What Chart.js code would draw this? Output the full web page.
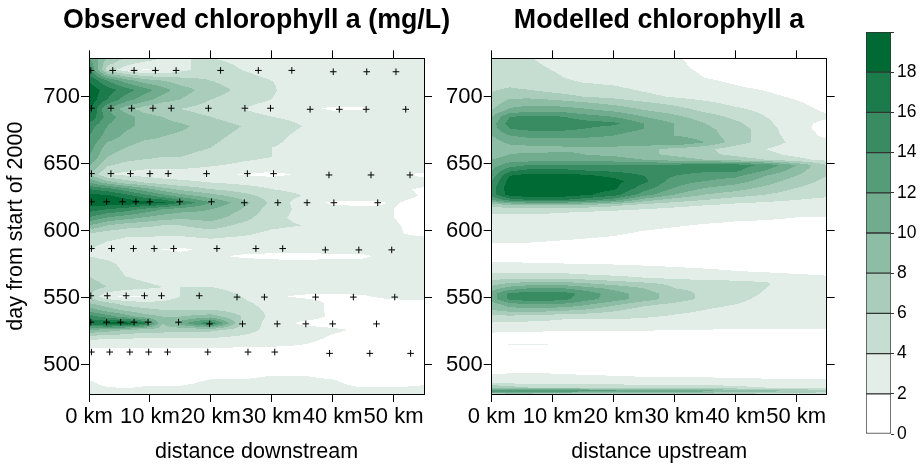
<!DOCTYPE html>
<html>
<head>
<meta charset="utf-8">
<script src="https://cdn.jsdelivr.net/npm/chart.js@4.4.1/dist/chart.umd.min.js"></script>
<style>
  html, body { margin: 0; padding: 0; background: #fff; }
  body { width: 921px; height: 465px; position: relative; overflow: hidden; }
  canvas { position: absolute; top: 0; }
</style>
</head>
<body>
<canvas id="obs" width="513" height="465" style="left:0px"></canvas>
<canvas id="mod" width="438" height="465" style="left:440px"></canvas>
<canvas id="key" width="71" height="465" style="left:850px"></canvas>
<script>
// distance grid (km) shared by both panels
const distKm = [0, 3, 6, 9, 12, 15, 20, 25, 30, 35, 40, 45, 50, 55];
// axis ticks
const kmTicks = [0, 10, 20, 30, 40, 50];
const dayTicks = [500, 550, 600, 650, 700];

// observed chlorophyll a (mg/L), one row per day
const obsDays = [479, 486, 493, 500, 508, 514, 520, 526, 531, 536, 541, 546, 551, 558, 566, 575,
  581, 586, 592, 598, 604, 610, 616, 621, 626, 631, 636, 642, 648, 655, 662, 670, 678, 685, 691,
  698, 705, 712, 720, 729];
const obsChl = [
  [3, 3, 3, 3, 3, 3, 3, 3, 3, 3, 3, 3, 3, 3],
  [2.4, 1.5, 1.0, 1.6, 1.7, 1.7, 2.4, 2.4, 2.6, 2.6, 2.4, 1.3, 1.3, 1.8],
  [1.2, 1.2, 1.2, 1.2, 1.2, 1.2, 1.5, 1.5, 1.9, 1.9, 1.5, 1.2, 1.2, 1.2],
  [1, 1, 1, 1, 1, 1, 1, 1, 1, 1, 1, 1, 1, 1],
  [1, 1, 1, 1, 1, 1, 1, 1, 1, 1, 1, 1, 1, 1],
  [2.3, 2.3, 2.3, 2.3, 2.3, 2.3, 2.3, 2.2, 2.1, 1.9, 1.5, 1.2, 1.2, 1.2],
  [4.5, 4.3, 4.2, 4, 4, 4, 4, 3.5, 3, 2.5, 1.8, 1.5, 1.5, 1.5],
  [10, 9, 8, 7, 7, 6.5, 6.5, 5, 3.3, 2.6, 2.2, 1.8, 1.5, 1.5],
  [17, 19, 19, 17, 8, 11, 16, 6, 3, 1.7, 1.5, 1.5, 1.5, 1.5],
  [15, 13, 11, 9, 8, 8, 9, 6, 3.5, 2.6, 1.8, 1.5, 1.5, 1.5],
  [11, 9, 7.5, 6.5, 6, 6, 6, 5, 3.5, 2.5, 1.8, 1.6, 1.5, 1.5],
  [8, 6.5, 5, 4.5, 4.5, 5, 5, 4.5, 3.2, 2.5, 1.8, 1.6, 1.6, 1.6],
  [6, 2.3, 1.7, 1.8, 2.8, 4, 5, 4, 2.2, 1.8, 1.8, 1.9, 2.3, 2.5],
  [7, 6, 5, 4.5, 4, 4, 4, 3.5, 3, 2.8, 2.6, 2.5, 2.5, 2.5],
  [6, 5, 4, 3.5, 3.2, 3, 3, 3, 2.8, 2.8, 2.7, 2.8, 3, 3],
  [5, 4.5, 3.5, 3.2, 3, 3, 3, 2.8, 2.6, 2.5, 2.5, 2.5, 2.8, 3],
  [4, 3.5, 3, 3, 2.8, 2.6, 2.3, 1.8, 1.6, 1.6, 1.7, 1.8, 2.5, 3],
  [4, 3.5, 3, 2.8, 2, 1.7, 2.5, 2.6, 2.5, 2.5, 2.5, 2.5, 2.8, 3],
  [4.5, 4, 3.5, 3.5, 3, 3, 3.5, 3, 3, 3, 3, 2.8, 2.3, 2.3],
  [6, 5, 4.5, 4.5, 4.5, 4.5, 5, 4.5, 3.5, 3, 3, 2.5, 2.1, 1.8],
  [10, 8, 7, 6.5, 6, 6, 7, 5.5, 4.5, 4, 3, 2.5, 2.1, 1.7],
  [14, 12, 11, 10, 9, 8.5, 9, 7, 4.5, 3.5, 3, 2.8, 2, 1.6],
  [17, 16, 15, 13.5, 12, 11, 10, 8, 5, 3.5, 2.5, 2.3, 2, 1.6],
  [19.5, 19.5, 19.5, 19, 18.5, 16, 12, 9, 5.5, 3, 1.7, 1.7, 2.1, 1.6],
  [19, 18.5, 17, 15, 13, 11, 9, 7, 5, 4, 3, 2.8, 2.4, 1.9],
  [16, 15, 13, 11, 9, 7.5, 6, 5, 4, 3.5, 3, 3, 2.3, 1.8],
  [12, 9, 7, 6, 5, 4.5, 4, 3.5, 3.2, 3, 3, 3, 2.8, 2.5],
  [8, 4, 3.5, 3.2, 3, 3, 2.8, 1.9, 1.5, 2.3, 3, 3, 2.3, 1.7],
  [10, 6, 5, 4.5, 4.5, 4.5, 4, 3.5, 3.2, 3, 3, 3, 3, 3],
  [12, 8, 7, 6.5, 6, 6, 5.5, 4.5, 4, 3.5, 3, 3, 3, 3],
  [13, 9, 8, 7, 7, 6.5, 6, 5, 4, 3.5, 3, 3, 3, 3],
  [14, 11, 9.5, 8.5, 8, 7.5, 6.5, 5.5, 4.5, 3.5, 3, 3, 3, 3],
  [15, 12, 10.5, 9.5, 9, 8.5, 7, 6, 5, 4, 3, 3, 3, 3],
  [18, 13, 11, 9, 8, 7, 6, 5, 4, 3.5, 3, 3, 3, 3],
  [19, 12, 9, 7, 6, 6, 5, 4, 3, 2.5, 1.7, 1.8, 3, 3],
  [19.5, 16, 13, 11, 9, 8, 6, 5, 4, 3, 3, 3, 3, 3],
  [19.5, 17, 15, 13, 11, 9, 7, 5.5, 4.2, 3, 3, 3, 3, 3],
  [18, 14, 11, 9, 8, 7, 6, 5, 4, 3.5, 3, 3, 3, 3],
  [15, 5, 3, 1.8, 2.2, 3.5, 5, 4, 3, 3, 3, 3, 3, 3],
  [12, 8, 6, 5, 4, 4, 4, 3.5, 3, 3, 3, 3, 3, 3]
];

// sampling stations (crosses), one row per survey
const stationKm = [
  [0.3, 3.9, 7.4, 10.9, 14.3, 21.6, 27.8, 33.3, 40.1, 45.6, 50.4],
  [0.4, 3.6, 7.0, 10.5, 13.5, 19.6, 25.6, 29.8, 36.3, 41.1, 45.5, 52.0],
  [0.4, 3.6, 6.8, 10.0, 13.0, 19.3, 26.0, 30.3, 39.4, 46.3, 52.7],
  [0.4, 2.9, 5.5, 7.7, 10.0, 14.9, 20.1, 25.5, 31.0, 35.8, 40.2, 47.4],
  [0.4, 3.7, 7.3, 10.7, 13.9, 21.0, 27.4, 31.8, 38.8, 44.3, 49.7],
  [0.3, 3.0, 6.1, 9.1, 11.9, 18.1, 24.3, 28.8, 37.2, 43.4, 50.2],
  [0.3, 2.9, 5.2, 7.4, 9.7, 14.7, 19.8, 25.2, 30.9, 35.6, 40.0, 47.2],
  [0.4, 3.4, 6.7, 9.8, 12.9, 19.5, 26.1, 30.5, 39.5, 46.1, 52.8]
];
const stationDay = [
  [719.6, 719.6, 719.6, 719.6, 719.6, 719.6, 719.6, 719.6, 718.6, 718.6, 718.6],
  [691.4, 691.4, 691.4, 691.4, 691.4, 691.4, 691.4, 691.4, 690.6, 690.6, 690.6, 690.6],
  [642.6, 642.6, 642.6, 642.6, 642.6, 642.6, 642.6, 642.6, 641.6, 641.6, 641.6],
  [621.6, 621.6, 621.6, 621.6, 621.6, 621.6, 621.6, 620.9, 620.9, 620.9, 620.9, 620.9],
  [586.7, 586.7, 586.7, 586.7, 586.7, 586.7, 586.7, 586.7, 585.7, 585.7, 585.7],
  [551.5, 551.5, 551.5, 551.5, 551.5, 551.5, 550.5, 550.5, 550.5, 550.5, 550.5],
  [531.8, 531.8, 531.8, 531.8, 531.8, 531.8, 530.5, 530.5, 530.5, 530.5, 530.5, 530.5],
  [509.5, 509.5, 509.5, 509.5, 509.5, 509.5, 509.5, 509.5, 508.5, 508.5, 508.5]
];

// modelled chlorophyll a, one row per day
const modDays = [478, 480.5, 483, 487, 491, 500, 512, 515, 518, 524, 530, 536, 541, 545, 549, 553,
  557, 561, 565, 570, 576, 584, 592, 598, 604, 610, 615, 619, 623, 627, 632, 637, 641, 645, 649,
  653, 657, 661, 666, 671, 676, 680, 685, 690, 695, 700, 707, 714, 722, 729];
const modChl = [
  [6, 6, 6, 6, 6, 6, 6, 6, 5, 5, 5, 5, 4.5, 4.5],
  [14, 15, 15, 14, 14, 13, 13, 12, 12, 11, 10, 9, 8, 7],
  [8, 7, 6, 6, 6, 6, 5.5, 5, 5, 5, 4.5, 4, 4, 3.5],
  [3.5, 3.2, 3, 3, 3, 3, 3, 3, 3, 3, 2.8, 2.6, 2.5, 2.5],
  [2.3, 2.4, 2.4, 2.4, 2.3, 2.2, 2.1, 2, 2, 1.9, 1.8, 1.7, 1.6, 1.6],
  [1, 1, 1, 1, 1, 1, 1, 1, 1, 1, 1, 1, 1, 1],
  [1.2, 1.2, 1.2, 1.2, 1.2, 1.2, 1.2, 1.2, 1.2, 1.2, 1.2, 1.2, 1.2, 1.2],
  [1.5, 2.1, 2.2, 2.1, 1.5, 1.2, 1.2, 1.2, 1.2, 1.2, 1.2, 1.2, 1.2, 1.2],
  [1.2, 1.2, 1.2, 1.2, 1.2, 1.2, 1.2, 1.2, 1.2, 1.2, 1.2, 1.2, 1.2, 1.2],
  [2.0, 1.9, 1.9, 1.8, 1.8, 1.8, 1.7, 1.7, 1.6, 1.6, 1.5, 1.5, 1.5, 1.5],
  [3.5, 3.3, 3.2, 3.1, 3, 3, 3, 3, 2.8, 2.7, 2.6, 2.5, 2.5, 2.5],
  [5.5, 5.5, 5.3, 5, 4.5, 4.5, 4.5, 4.2, 3.8, 3.5, 3.2, 3, 3, 3],
  [8, 9, 9, 9, 8.5, 8, 6.5, 5, 4.5, 4, 3.5, 3, 3, 3],
  [9, 11, 12, 12, 11.5, 10.5, 8.5, 6.5, 5.5, 4.5, 4, 3.2, 3, 3],
  [11, 14.5, 15, 15, 14.5, 13, 11, 9, 7, 5.5, 4.5, 3.5, 3, 3],
  [11, 14.5, 15, 15, 14.8, 13.5, 11, 9, 7, 5.5, 4.8, 3.8, 3, 3],
  [9, 11, 12, 12, 12, 11, 9.5, 8, 6, 5.5, 5, 4, 3, 3],
  [7, 8, 8.5, 8.5, 8.5, 8, 7, 6.2, 5.5, 5, 4.8, 4.2, 3, 3],
  [5, 5.5, 5.5, 5.5, 5.5, 5, 4.5, 4, 3.5, 3.2, 3, 2.8, 2.5, 2.2],
  [3.5, 3.5, 3.5, 3.3, 3.2, 3, 2.8, 2.6, 2.4, 2.2, 2, 1.8, 1.6, 1.5],
  [2.1, 2.1, 2, 2, 1.9, 1.9, 1.8, 1.7, 1.6, 1.5, 1.5, 1.5, 1.5, 1.5],
  [1.2, 1.2, 1.2, 1.2, 1.2, 1.2, 1.2, 1.2, 1.2, 1.2, 1.2, 1.2, 1.2, 1.2],
  [2.1, 2.1, 2.1, 2.0, 1.9, 1.8, 1.6, 1.4, 1.3, 1.3, 1.3, 1.3, 1.3, 1.3],
  [2.8, 2.8, 2.7, 2.6, 2.5, 2.4, 2.2, 1.8, 1.6, 1.6, 1.6, 1.6, 1.6, 1.6],
  [3.2, 3.2, 3.1, 3, 3, 2.9, 2.7, 2.4, 2.1, 1.9, 1.8, 1.8, 1.8, 1.8],
  [3.5, 3.5, 3.5, 3.4, 3.3, 3.2, 3, 2.8, 2.6, 2.4, 2.2, 2.1, 2, 2],
  [4.5, 4.5, 4.5, 4.5, 4.3, 4.2, 4, 3.6, 3.3, 3, 2.8, 2.7, 2.6, 2.6],
  [6.5, 7.5, 8, 8, 8, 7.5, 6.5, 5, 4.5, 4, 3.5, 3.2, 3, 3],
  [12, 15, 16, 16, 16, 15, 13, 9, 7, 6, 5, 4.5, 4, 3.5],
  [15, 19, 19.5, 19.5, 19.2, 18.5, 17, 13, 10, 8, 7, 6, 5, 4.5],
  [15, 19.5, 19.5, 19.5, 19.5, 19, 18.5, 15, 12, 10, 9, 7.5, 6, 5],
  [14, 19, 19.5, 19.5, 19.5, 19.2, 18.8, 16.5, 13, 12, 11, 9, 7, 5.5],
  [13, 18, 19, 19, 19, 18.5, 17.5, 16, 14, 13, 12.5, 10, 8, 6],
  [12, 15.5, 16.5, 16.5, 16.5, 16, 15.5, 15, 15, 14.5, 14.5, 12, 9, 6],
  [11, 13, 14, 14, 14, 14, 14, 14, 14.5, 15, 15, 13.5, 10, 6],
  [10, 11, 11, 11, 11, 11, 11, 10, 9, 8, 7, 6, 4.5, 3.5],
  [9, 10, 10.5, 10.5, 10.5, 10, 9.5, 8.5, 7.5, 6.5, 5.5, 4.5, 3.5, 3],
  [8.5, 9, 9, 9, 9.5, 9.5, 9.5, 8.5, 7.5, 6.5, 5, 4, 3, 2.5],
  [9, 10.5, 11, 11, 11, 11, 11, 11.5, 12, 10, 7, 5, 3.5, 2.5],
  [10, 12, 12.5, 12.5, 12.5, 12.5, 12, 11, 10, 9, 7, 5, 3, 1.6],
  [11, 14, 14.5, 14.5, 14.5, 14, 13, 12, 10, 8.5, 7, 5, 2.5, 1.5],
  [11, 15, 15.5, 15.5, 15.5, 15, 14.5, 12, 10, 8, 6.5, 4.5, 2.5, 1.6],
  [10, 14, 14.5, 14.5, 14, 13, 12, 10, 8.5, 7, 5.5, 4, 2.8, 2.2],
  [8, 10.5, 11, 11, 11, 10.5, 9.5, 8, 7, 5.5, 4.5, 3.5, 2.5, 1.8],
  [7, 9, 9.5, 9.5, 9, 8.5, 7.5, 6.5, 5.5, 4.5, 3.5, 3, 2.2, 1.5],
  [6.5, 7.5, 7.5, 7, 6.5, 6, 5.5, 4.5, 3.8, 3.2, 2.8, 2.3, 1.8, 1.3],
  [5.5, 6, 5.5, 5, 4.8, 4.5, 4.2, 3.5, 3, 2.5, 2.1, 1.8, 1.4, 1.2],
  [5, 5, 4.8, 4.5, 4, 3.5, 3.2, 2.8, 2.4, 2, 1.7, 1.5, 1.2, 1.2],
  [4.8, 4.8, 4.5, 4, 3.5, 3.2, 3, 2.7, 2.2, 1.8, 1.5, 1.3, 1.2, 1.2],
  [4.5, 4.5, 4.2, 3.5, 3.2, 3, 2.9, 2.6, 2.1, 1.7, 1.4, 1.2, 1.2, 1.2]
];

// colour key
const keyLevels = [0, 2, 4, 6, 8, 10, 12, 14, 16, 18, 20];
const palette = ['#ffffff', '#e3eee8', '#c6ded2', '#aacdbb', '#8ebda5',
  '#71ac8e', '#559c78', '#398b61', '#1c7b4b', '#006a34'];

const FONT = "'Liberation Sans', Arial, Helvetica, sans-serif";
Chart.defaults.font.family = FONT;
Chart.defaults.color = '#000';

const paletteRgb = palette.map(h => [1, 3, 5].map(i => parseInt(h.substr(i, 2), 16)));

function locate(arr, v) {
  if (v <= arr[0]) return [0, 0];
  const n = arr.length - 1;
  if (v >= arr[n]) return [n - 1, 1];
  let i = 0;
  while (arr[i + 1] < v) i++;
  return [i, (v - arr[i]) / (arr[i + 1] - arr[i])];
}

// filled contour bands, painted pixel by pixel through the chart's scales
function fieldPlugin(days, kms, values) {
  return {
    id: 'field',
    beforeDraw(chart) {
      const { ctx, chartArea: a, scales } = chart;
      const left = Math.round(a.left), top = Math.round(a.top);
      const w = Math.round(a.right) - left, h = Math.round(a.bottom) - top;
      const img = ctx.createImageData(w, h);
      const xs = [];
      for (let i = 0; i < w; i++) xs.push(locate(kms, scales.x.getValueForPixel(left + i + 0.5)));
      for (let j = 0; j < h; j++) {
        const [r, fy] = locate(days, scales.y.getValueForPixel(top + j + 0.5));
        const r0 = values[r], r1 = values[Math.min(r + 1, values.length - 1)];
        for (let i = 0; i < w; i++) {
          const [c, fx] = xs[i];
          const c1 = Math.min(c + 1, kms.length - 1);
          const lo = r0[c] + (r0[c1] - r0[c]) * fx;
          const hi = r1[c] + (r1[c1] - r1[c]) * fx;
          const v = lo + (hi - lo) * fy;
          let band = Math.floor(v / 2);
          band = Math.max(0, Math.min(palette.length - 1, band));
          const col = paletteRgb[band];
          const p = (j * w + i) * 4;
          img.data[p] = col[0]; img.data[p + 1] = col[1]; img.data[p + 2] = col[2]; img.data[p + 3] = 255;
        }
      }
      ctx.putImageData(img, left, top);
    }
  };
}

const tickFont = { family: FONT, size: 22 };
const titleFont = { family: FONT, size: 21.5 };
const tickGrid = { drawOnChartArea: false, drawTicks: true, tickLength: 8, color: '#000', lineWidth: 1 };
const frame = { display: true, color: '#000', width: 1 };
const setTicks = list => s => { s.ticks = list.map(v => ({ value: v })); };

function panelScales(xTitle, yTitle, leftW, rightW) {
  return {
    x: {
      type: 'linear', position: 'bottom', min: 0, max: 55, grid: tickGrid, border: frame,
      afterBuildTicks: setTicks(kmTicks),
      ticks: { autoSkip: false, maxRotation: 0, minRotation: 0,
        padding: 2, font: tickFont, color: '#000', callback: v => v + ' km' },
      title: { display: true, text: xTitle, font: titleFont, color: '#000', padding: { top: 0, bottom: 0 } },
      afterFit: s => { s.height = 71; }
    },
    x2: {
      type: 'linear', position: 'top', min: 0, max: 55, grid: tickGrid, border: frame,
      afterBuildTicks: setTicks(kmTicks),
      ticks: { display: false },
      afterFit: s => { s.height = 21.7; }
    },
    y: {
      type: 'linear', position: 'left', min: 478.2, max: 728.6, grid: tickGrid, border: frame,
      afterBuildTicks: setTicks(dayTicks),
      ticks: { autoSkip: false, padding: 1, font: tickFont, color: '#000' },
      title: { display: !!yTitle, text: yTitle, font: titleFont, color: '#000', padding: { top: 3, bottom: 0 } },
      afterFit: s => { s.width = leftW; }
    },
    y2: {
      type: 'linear', position: 'right', min: 478.2, max: 728.6, grid: tickGrid, border: frame,
      afterBuildTicks: setTicks(dayTicks),
      ticks: { display: false },
      afterFit: s => { s.width = rightW; }
    }
  };
}

function titleOpts(text) {
  return { display: true, text: text, color: '#000',
    font: { family: FONT, size: 26.8, weight: 'bold' }, padding: { top: 4.5, bottom: 0 } };
}

const baseOpts = { responsive: false, animation: false, devicePixelRatio: 1, events: [], layout: { padding: 0 } };

const stations = [];
stationKm.forEach((row, r) => row.forEach((km, i) => stations.push({ x: km, y: stationDay[r][i] })));

new Chart(document.getElementById('obs'), {
  type: 'scatter',
  data: {
    datasets: [{
      label: 'stations', data: stations, pointStyle: 'cross', pointRadius: 3.3,
      pointBorderColor: '#000', pointBackgroundColor: '#000', pointBorderWidth: 1
    }]
  },
  options: Object.assign({}, baseOpts, {
    plugins: { legend: { display: false }, tooltip: { enabled: false },
      title: titleOpts('Observed chlorophyll a (mg/L)') },
    scales: panelScales('distance downstream', 'day from start of 2000', 89, 89)
  }),
  plugins: [fieldPlugin(obsDays, distKm, obsChl)]
});

new Chart(document.getElementById('mod'), {
  type: 'scatter',
  data: { datasets: [] },
  options: Object.assign({}, baseOpts, {
    plugins: { legend: { display: false }, tooltip: { enabled: false },
      title: titleOpts('Modelled chlorophyll a') },
    scales: panelScales('distance upstream', '', 51.7, 51.3)
  }),
  plugins: [fieldPlugin(modDays, distKm, modChl)]
});

new Chart(document.getElementById('key'), {
  type: 'bar',
  data: {
    labels: [''],
    datasets: palette.map((col, i) => ({
      data: [[keyLevels[i], keyLevels[i + 1]]], backgroundColor: col,
      borderColor: '#333', borderWidth: 1, borderSkipped: false,
      barPercentage: 1, categoryPercentage: 1
    }))
  },
  options: Object.assign({}, baseOpts, {
    layout: { padding: { top: 32, bottom: 31, left: 16, right: 0 } },
    plugins: { legend: { display: false }, tooltip: { enabled: false } },
    scales: {
      x: { display: false, stacked: true },
      y: {
        position: 'right', min: 0, max: 20,
        grid: { drawOnChartArea: false, drawTicks: true, tickLength: 3, color: '#333' },
        border: { display: false },
        ticks: { stepSize: 2, padding: 3, font: { family: FONT, size: 17.5 }, color: '#000',
          callback: v => (v === 20 ? '' : v) },
        afterFit: s => { s.width = 30; }
      }
    }
  })
});
</script>
</body>
</html>
